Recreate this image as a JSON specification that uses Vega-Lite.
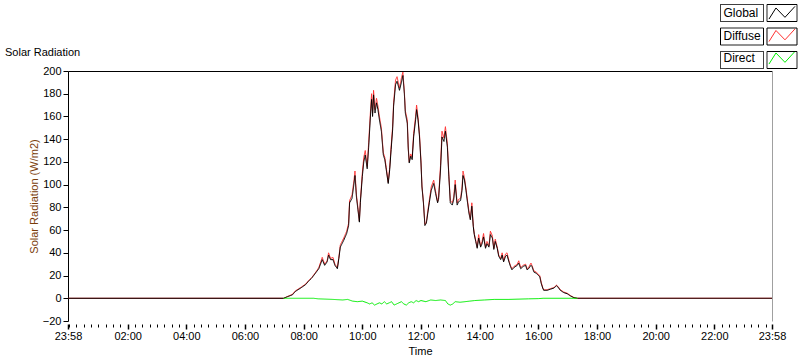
{
  "$schema": "https://vega.github.io/schema/vega-lite/v6.json",
  "width": 704,
  "height": 250,
  "autosize": {"type": "none"},
  "padding": {"left": 68, "top": 71, "right": 28, "bottom": 40},
  "background": "white",
  "config": {
    "view": {"stroke": null},
    "font": "Liberation Sans",
    "axis": {"labelFont": "Liberation Sans", "labelFontSize": 11, "labelColor": "#000000", "tickColor": "#000000", "domainColor": "#000000", "titleFont": "Liberation Sans", "titleFontSize": 11, "titleFontWeight": "normal", "titleColor": "#000000", "grid": false},
    "legend": {"labelFont": "Liberation Sans", "labelFontSize": 12, "labelColor": "#000000"},
    "title": {"font": "Liberation Sans", "fontSize": 11, "fontWeight": "normal", "color": "#000000"}
  },
  "title": {"text": "Solar Radiation", "anchor": "start", "frame": "group", "offset": 13, "dx": -63, "dy": 67},
  "datasets": {
    "gd": [
      {"t": -2, "Global": 0, "Diffuse": 0},
      {"t": 439, "Global": 0, "Diffuse": 0},
      {"t": 447, "Global": 1.4, "Diffuse": 1.6},
      {"t": 457, "Global": 3, "Diffuse": 3.5},
      {"t": 463, "Global": 6, "Diffuse": 6.5},
      {"t": 474, "Global": 9, "Diffuse": 9.5},
      {"t": 484, "Global": 12, "Diffuse": 12.5},
      {"t": 490, "Global": 15, "Diffuse": 15.5},
      {"t": 497, "Global": 18, "Diffuse": 18.5},
      {"t": 504, "Global": 22, "Diffuse": 22.5},
      {"t": 511, "Global": 26, "Diffuse": 27},
      {"t": 518, "Global": 34, "Diffuse": 36},
      {"t": 523, "Global": 29, "Diffuse": 30},
      {"t": 528, "Global": 32, "Diffuse": 33},
      {"t": 531, "Global": 38, "Diffuse": 40},
      {"t": 535, "Global": 34, "Diffuse": 35},
      {"t": 540, "Global": 34, "Diffuse": 36},
      {"t": 544, "Global": 29, "Diffuse": 30},
      {"t": 549, "Global": 26, "Diffuse": 27},
      {"t": 552, "Global": 35, "Diffuse": 36},
      {"t": 555, "Global": 45, "Diffuse": 47},
      {"t": 562, "Global": 51, "Diffuse": 53},
      {"t": 568, "Global": 57, "Diffuse": 59},
      {"t": 572, "Global": 64, "Diffuse": 66},
      {"t": 574, "Global": 84, "Diffuse": 86},
      {"t": 579, "Global": 88, "Diffuse": 91},
      {"t": 583, "Global": 101, "Diffuse": 104},
      {"t": 585, "Global": 108, "Diffuse": 112},
      {"t": 588, "Global": 89, "Diffuse": 91},
      {"t": 591, "Global": 78, "Diffuse": 80},
      {"t": 594, "Global": 67, "Diffuse": 68},
      {"t": 596, "Global": 84, "Diffuse": 86},
      {"t": 600, "Global": 107, "Diffuse": 110},
      {"t": 603, "Global": 120, "Diffuse": 124},
      {"t": 606, "Global": 126, "Diffuse": 130},
      {"t": 610, "Global": 114, "Diffuse": 116},
      {"t": 613, "Global": 133, "Diffuse": 137},
      {"t": 617, "Global": 163, "Diffuse": 167},
      {"t": 619, "Global": 175, "Diffuse": 180},
      {"t": 621, "Global": 160, "Diffuse": 163},
      {"t": 623, "Global": 179, "Diffuse": 183},
      {"t": 626, "Global": 163, "Diffuse": 166},
      {"t": 629, "Global": 172, "Diffuse": 176},
      {"t": 632, "Global": 166, "Diffuse": 169},
      {"t": 635, "Global": 157, "Diffuse": 160},
      {"t": 639, "Global": 147, "Diffuse": 150},
      {"t": 643, "Global": 126, "Diffuse": 128},
      {"t": 646, "Global": 122, "Diffuse": 124},
      {"t": 649, "Global": 113, "Diffuse": 115},
      {"t": 653, "Global": 101, "Diffuse": 102},
      {"t": 656, "Global": 113, "Diffuse": 115},
      {"t": 659, "Global": 131, "Diffuse": 134},
      {"t": 662, "Global": 148, "Diffuse": 151},
      {"t": 664, "Global": 169, "Diffuse": 172},
      {"t": 668, "Global": 188, "Diffuse": 192},
      {"t": 671, "Global": 191, "Diffuse": 195},
      {"t": 676, "Global": 183, "Diffuse": 185},
      {"t": 680, "Global": 190, "Diffuse": 194},
      {"t": 683, "Global": 196, "Diffuse": 199},
      {"t": 686, "Global": 180, "Diffuse": 182},
      {"t": 688, "Global": 163, "Diffuse": 165},
      {"t": 692, "Global": 154, "Diffuse": 157},
      {"t": 694, "Global": 131, "Diffuse": 133},
      {"t": 696, "Global": 119, "Diffuse": 120},
      {"t": 699, "Global": 125, "Diffuse": 127},
      {"t": 702, "Global": 122, "Diffuse": 124},
      {"t": 705, "Global": 142, "Diffuse": 145},
      {"t": 709, "Global": 157, "Diffuse": 160},
      {"t": 711, "Global": 166, "Diffuse": 170},
      {"t": 714, "Global": 157, "Diffuse": 159},
      {"t": 717, "Global": 142, "Diffuse": 144},
      {"t": 720, "Global": 119, "Diffuse": 121},
      {"t": 722, "Global": 98, "Diffuse": 99},
      {"t": 725, "Global": 84, "Diffuse": 85},
      {"t": 728, "Global": 64, "Diffuse": 65},
      {"t": 731, "Global": 66, "Diffuse": 67},
      {"t": 734, "Global": 75, "Diffuse": 77},
      {"t": 737, "Global": 84, "Diffuse": 86},
      {"t": 741, "Global": 95, "Diffuse": 98},
      {"t": 746, "Global": 101, "Diffuse": 104},
      {"t": 750, "Global": 92, "Diffuse": 94},
      {"t": 754, "Global": 84, "Diffuse": 85},
      {"t": 756, "Global": 87, "Diffuse": 89},
      {"t": 760, "Global": 113, "Diffuse": 117},
      {"t": 763, "Global": 142, "Diffuse": 147},
      {"t": 767, "Global": 138, "Diffuse": 141},
      {"t": 770, "Global": 147, "Diffuse": 151},
      {"t": 774, "Global": 133, "Diffuse": 136},
      {"t": 777, "Global": 107, "Diffuse": 109},
      {"t": 780, "Global": 84, "Diffuse": 86},
      {"t": 784, "Global": 82, "Diffuse": 84},
      {"t": 787, "Global": 87, "Diffuse": 89},
      {"t": 790, "Global": 100, "Diffuse": 104},
      {"t": 794, "Global": 82, "Diffuse": 84},
      {"t": 797, "Global": 85, "Diffuse": 87},
      {"t": 801, "Global": 86, "Diffuse": 88},
      {"t": 804, "Global": 95, "Diffuse": 98},
      {"t": 806, "Global": 108, "Diffuse": 112},
      {"t": 809, "Global": 104, "Diffuse": 106},
      {"t": 812, "Global": 95, "Diffuse": 97},
      {"t": 814, "Global": 88, "Diffuse": 90},
      {"t": 818, "Global": 75, "Diffuse": 77},
      {"t": 821, "Global": 69, "Diffuse": 70},
      {"t": 824, "Global": 81, "Diffuse": 84},
      {"t": 827, "Global": 63, "Diffuse": 64},
      {"t": 829, "Global": 56, "Diffuse": 57},
      {"t": 832, "Global": 50, "Diffuse": 51},
      {"t": 835, "Global": 44, "Diffuse": 45},
      {"t": 838, "Global": 53, "Diffuse": 56},
      {"t": 842, "Global": 45, "Diffuse": 46},
      {"t": 845, "Global": 48, "Diffuse": 50},
      {"t": 848, "Global": 54, "Diffuse": 57},
      {"t": 852, "Global": 44, "Diffuse": 45},
      {"t": 855, "Global": 48, "Diffuse": 50},
      {"t": 859, "Global": 45, "Diffuse": 46},
      {"t": 862, "Global": 56, "Diffuse": 59},
      {"t": 866, "Global": 53, "Diffuse": 55},
      {"t": 869, "Global": 43, "Diffuse": 44},
      {"t": 872, "Global": 50, "Diffuse": 52},
      {"t": 876, "Global": 44, "Diffuse": 45},
      {"t": 879, "Global": 37, "Diffuse": 38},
      {"t": 883, "Global": 34, "Diffuse": 35},
      {"t": 886, "Global": 38, "Diffuse": 40},
      {"t": 889, "Global": 32, "Diffuse": 33},
      {"t": 893, "Global": 37, "Diffuse": 39},
      {"t": 896, "Global": 38, "Diffuse": 40},
      {"t": 900, "Global": 32, "Diffuse": 33},
      {"t": 903, "Global": 28, "Diffuse": 29},
      {"t": 906, "Global": 25, "Diffuse": 26},
      {"t": 910, "Global": 27, "Diffuse": 28},
      {"t": 917, "Global": 29, "Diffuse": 30},
      {"t": 920, "Global": 31, "Diffuse": 33},
      {"t": 924, "Global": 26, "Diffuse": 27},
      {"t": 929, "Global": 28, "Diffuse": 29},
      {"t": 934, "Global": 29, "Diffuse": 30},
      {"t": 937, "Global": 25, "Diffuse": 26},
      {"t": 940, "Global": 26, "Diffuse": 27},
      {"t": 945, "Global": 29, "Diffuse": 31},
      {"t": 947, "Global": 28, "Diffuse": 29},
      {"t": 951, "Global": 23, "Diffuse": 24},
      {"t": 956, "Global": 22, "Diffuse": 23},
      {"t": 959, "Global": 20.5, "Diffuse": 21.5},
      {"t": 963, "Global": 19, "Diffuse": 20},
      {"t": 966, "Global": 13, "Diffuse": 14},
      {"t": 969, "Global": 9, "Diffuse": 9.5},
      {"t": 971, "Global": 7, "Diffuse": 7.5},
      {"t": 978, "Global": 7, "Diffuse": 7.5},
      {"t": 985, "Global": 8, "Diffuse": 8.5},
      {"t": 992, "Global": 9, "Diffuse": 9.5},
      {"t": 997, "Global": 11, "Diffuse": 11.5},
      {"t": 1000, "Global": 10, "Diffuse": 10.5},
      {"t": 1005, "Global": 7, "Diffuse": 7.5},
      {"t": 1012, "Global": 5, "Diffuse": 5.5},
      {"t": 1019, "Global": 4, "Diffuse": 4.5},
      {"t": 1026, "Global": 2, "Diffuse": 2.3},
      {"t": 1033, "Global": 0.5, "Diffuse": 0.6},
      {"t": 1040, "Global": 0, "Diffuse": 0},
      {"t": 1438, "Global": 0, "Diffuse": 0}
    ],
    "dir": [
      {"t": 439, "Direct": 0},
      {"t": 500, "Direct": 0},
      {"t": 510, "Direct": -0.5},
      {"t": 540, "Direct": -1},
      {"t": 560, "Direct": -1.5},
      {"t": 570, "Direct": -1},
      {"t": 580, "Direct": -2.5},
      {"t": 590, "Direct": -3},
      {"t": 600, "Direct": -2.5},
      {"t": 610, "Direct": -4},
      {"t": 615, "Direct": -5},
      {"t": 620, "Direct": -4},
      {"t": 625, "Direct": -6},
      {"t": 630, "Direct": -5},
      {"t": 635, "Direct": -4},
      {"t": 640, "Direct": -5},
      {"t": 645, "Direct": -3},
      {"t": 650, "Direct": -5},
      {"t": 655, "Direct": -4},
      {"t": 660, "Direct": -3},
      {"t": 665, "Direct": -6},
      {"t": 670, "Direct": -5},
      {"t": 675, "Direct": -4},
      {"t": 680, "Direct": -3},
      {"t": 685, "Direct": -5},
      {"t": 690, "Direct": -6},
      {"t": 695, "Direct": -4},
      {"t": 700, "Direct": -3},
      {"t": 705, "Direct": -4},
      {"t": 710, "Direct": -2},
      {"t": 715, "Direct": -3},
      {"t": 720, "Direct": -2},
      {"t": 730, "Direct": -3},
      {"t": 740, "Direct": -1.5},
      {"t": 750, "Direct": -2},
      {"t": 760, "Direct": -1.5},
      {"t": 770, "Direct": -2},
      {"t": 775, "Direct": -5},
      {"t": 780, "Direct": -6},
      {"t": 785, "Direct": -5},
      {"t": 790, "Direct": -3},
      {"t": 800, "Direct": -3.5},
      {"t": 810, "Direct": -3},
      {"t": 820, "Direct": -2.5},
      {"t": 830, "Direct": -2},
      {"t": 850, "Direct": -1.5},
      {"t": 870, "Direct": -1},
      {"t": 900, "Direct": -1},
      {"t": 940, "Direct": -0.5},
      {"t": 960, "Direct": -0.3},
      {"t": 970, "Direct": 0},
      {"t": 1040, "Direct": 0}
    ]
  },
  "layer": [
    {
      "data": {"name": "gd"},
      "mark": {"type": "line", "strokeWidth": 1},
      "encoding": {
        "x": {"field": "t", "type": "quantitative", "scale": {"domain": [-2, 1438], "nice": false, "zero": false},
          "axis": {"orient": "bottom", "title": "Time", "values": [-2, 120, 240, 360, 480, 600, 720, 840, 960, 1080, 1200, 1320, 1438],
            "labelExpr": "datum.value < 0 || datum.value > 1430 ? '23:58' : (datum.value < 600 ? '0' : '') + (datum.value / 60) + ':00'",
            "domain": false, "offset": 3, "tickSize": 5, "tickWidth": 1.5, "labelPadding": 1, "titlePadding": 4, "labelFlush": false, "labelOverlap": false}},
        "y": {"field": "Diffuse", "type": "quantitative", "scale": {"domain": [-20, 200], "nice": false, "zero": false},
          "axis": {"orient": "left", "title": "Solar Radiation (W/m2)", "titleColor": "#7a3c0a", "values": [-20, 0, 20, 40, 60, 80, 100, 120, 140, 160, 180, 200], "tickSize": 5, "labelPadding": 2, "titlePadding": 3, "domain": true}},
        "color": {"datum": "Diffuse", "type": "nominal",
          "scale": {"domain": ["Global", "Diffuse", "Direct"], "range": ["#000000", "#ff3030", "#00ee00"]},
          "legend": {"orient": "none", "legendX": 705, "legendY": -67, "title": null, "direction": "vertical",
            "symbolType": "M-1.53,0.71L-0.71,-0.59L0.35,0.51L1.53,-0.78", "symbolSize": 289, "symbolStrokeWidth": 1, "symbolFillColor": "transparent",
            "labelAlign": "left", "labelOffset": -67.5, "rowPadding": 4.5}},
        "strokeDash": {"datum": "d", "type": "nominal",
          "scale": {"domain": ["g", "d", "r"], "range": [[1, 0], [1, 0], [1, 0]]},
          "legend": {"orient": "none", "legendX": 705, "legendY": -67, "title": null, "direction": "vertical",
            "symbolType": "M-1.765,-1H1.765V1H-1.765ZM-7.235,-1H-2.176V1H-7.235Z", "symbolSize": 289, "symbolStrokeWidth": 1, "symbolStrokeColor": "#1a1a1a", "symbolFillColor": "transparent",
            "labelExpr": "''", "labelAlign": "left", "labelOffset": -67.5, "rowPadding": 1.5}}
      }
    },
    {
      "data": {"name": "gd"},
      "mark": {"type": "line", "strokeWidth": 1},
      "encoding": {
        "x": {"field": "t", "type": "quantitative",
          "axis": {"orient": "bottom", "title": null, "labels": false, "domain": false, "offset": 3, "tickSize": 3,
            "values": [0, 15, 30, 45, 60, 75, 90, 105, 135, 150, 165, 180, 195, 210, 225, 255, 270, 285, 300, 315, 330, 345, 375, 390, 405, 420, 435, 450, 465, 495, 510, 525, 540, 555, 570, 585, 615, 630, 645, 660, 675, 690, 705, 735, 750, 765, 780, 795, 810, 825, 855, 870, 885, 900, 915, 930, 945, 975, 990, 1005, 1020, 1035, 1050, 1065, 1095, 1110, 1125, 1140, 1155, 1170, 1185, 1215, 1230, 1245, 1260, 1275, 1290, 1305, 1335, 1350, 1365, 1380, 1395, 1410, 1425]}},
        "y": {"field": "Global", "type": "quantitative",
          "axis": {"orient": "right", "title": null, "labels": false, "ticks": false, "domain": true, "domainColor": "#a0a0a0"}},
        "color": {"datum": "Global", "type": "nominal"},
        "strokeDash": {"datum": "g", "type": "nominal"}
      }
    },
    {
      "data": {"name": "dir"},
      "mark": {"type": "line", "strokeWidth": 1},
      "encoding": {
        "x": {"field": "t", "type": "quantitative",
          "axis": {"orient": "top", "title": null, "labels": false, "ticks": false, "domain": true, "domainColor": "#000000"}},
        "y": {"field": "Direct", "type": "quantitative", "axis": null},
        "color": {"datum": "Direct", "type": "nominal"},
        "strokeDash": {"datum": "r", "type": "nominal"}
      }
    }
  ],
  "resolve": {"axis": {"x": "independent", "y": "independent"}}
}
